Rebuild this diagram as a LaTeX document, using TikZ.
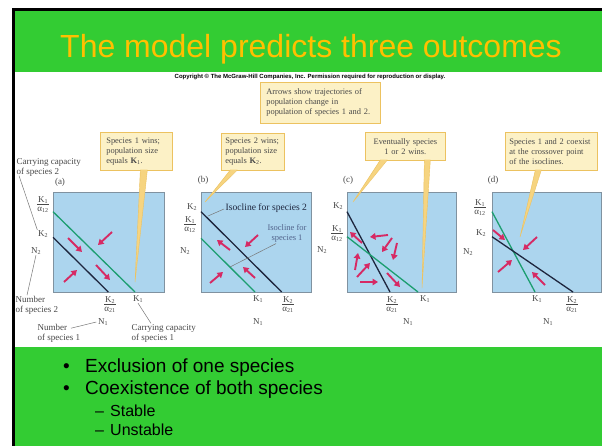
\documentclass[tikz,border=0pt]{standalone}
\usepackage{fontspec}
\setmainfont{Liberation Serif}
\newfontfamily\arialfont{Liberation Sans}
\usetikzlibrary{arrows.meta,calc}

\definecolor{slidegreen}{RGB}{51,204,51}
\definecolor{titleorange}{RGB}{255,192,0}
\definecolor{panelblue}{RGB}{172,213,238}
\definecolor{paneledge}{RGB}{128,146,160}
\definecolor{isogreen}{RGB}{28,158,112}
\definecolor{isonavy}{RGB}{30,38,62}
\definecolor{trajpink}{RGB}{214,42,100}
\definecolor{notefill}{RGB}{252,241,198}
\definecolor{noteedge}{RGB}{236,194,96}
\definecolor{wedgefill}{RGB}{246,212,128}
\definecolor{labelgray}{RGB}{72,72,72}
\definecolor{leadergray}{RGB}{120,120,120}
\definecolor{isolabel}{RGB}{82,100,140}

% fraction label such as K1 over alpha12
\newcommand{\kfrac}[2]{\begin{tabular}{@{}c@{}}#1\\[-1.5pt]\hline\rule{0pt}{8pt}#2\end{tabular}}
% pointer wedge hanging from the bottom edge of a note
\newcommand{\calloutwedge}[4]{%
  \fill[wedgefill] ($(#1.south)+(#2,-1)$) -- (#4) -- ($(#1.south)+(#3,-1)$) -- cycle;
  \draw[noteedge,line width=0.4pt] ($(#1.south)+(#2,-0.7)$) -- (#4) -- ($(#1.south)+(#3,-0.7)$);}

\begin{document}
\begin{tikzpicture}[x=1pt,y=-1pt,
  panel/.style={fill=panelblue, draw=paneledge, line width=0.8pt},
  isoG/.style={isogreen, line width=1.3pt},
  isoK/.style={isonavy, line width=1.3pt},
  traj/.style={trajpink, line width=1.9pt, -{Triangle[length=5.5pt,width=6.5pt]}},
  lab/.style={font=\fontsize{9}{10}\selectfont, text=labelgray, inner sep=0.5pt},
  leader/.style={draw=leadergray, line width=0.5pt},
  note/.style={draw=noteedge, fill=notefill, line width=0.7pt,
    font=\fontsize{8.4}{10}\selectfont, text=labelgray, align=left,
    inner xsep=4pt, inner ysep=2pt, anchor=north west},
  bullet/.style={font=\arialfont\fontsize{19}{22}\selectfont, inner sep=0pt, anchor=base west},
  subbullet/.style={font=\arialfont\fontsize{16}{18}\selectfont, inner sep=0pt, anchor=base west},
]
\useasboundingbox (0,0) rectangle (602,446);

% slide background and frame
\fill[white] (0,0) rectangle (602,446);
\fill[slidegreen] (12,9) rectangle (602,72);
\fill[slidegreen] (12,347) rectangle (602,446);
\fill[black] (11.5,8.5) rectangle (602,11);
\fill[black] (11.5,8.5) rectangle (15,446);

% title and credit line
\node[font=\arialfont\fontsize{32}{36}\selectfont, text=titleorange, anchor=base, inner sep=0pt]
  (title) at (311,58) {The model predicts three outcomes};
\node[font=\arialfont\bfseries\fontsize{6}{7}\selectfont, inner sep=0pt]
  (credit) at (310,77) {Copyright © The McGraw-Hill Companies, Inc. Permission required for reproduction or display.};

% ---------- phase planes ----------
\draw[panel] (53,192) rectangle (164,292);
\draw[panel] (201,192) rectangle (311,292);
\draw[panel] (347,192) rectangle (456,292);
\draw[panel] (492,192) rectangle (601,292);

% isoclines
\draw[isoG] (53,211.7) -- (135,292);
\draw[isoK] (53,237.3) -- (108.3,292);
\draw[isoK] (201,211.7) -- (281.7,292);
\draw[isoG] (201,238.3) -- (255,292);
\draw[isoK] (347,211.7) -- (390,292);
\draw[isoG] (347,236.7) -- (418,292);
\draw[isoG] (492,211.7) -- (535,292);
\draw[isoK] (492,236.7) -- (573,292);

% trajectories (a)
\draw[traj] (68,238) -- (82,252);
\draw[traj] (112,232) -- (98,245);
\draw[traj] (64,282) -- (77,270);
\draw[traj] (96,265) -- (110,280);
% trajectories (b)
\draw[traj] (230,250) -- (217,240);
\draw[traj] (258,235) -- (245,247);
\draw[traj] (210,283) -- (223,272);
\draw[traj] (255,278) -- (243,267);
% trajectories (c)
\draw[traj] (362,243) -- (350,232);
\draw[traj] (388,235) -- (370,237);
\draw[traj] (392,238) -- (382,252);
\draw[traj] (397,243) -- (393,260);
\draw[traj] (355,270) -- (358,253);
\draw[traj] (357,277) -- (370,263);
\draw[traj] (360,282) -- (378,282);
\draw[traj] (387,273) -- (400,287);
% trajectories (d)
\draw[traj] (493,230) -- (505,240);
\draw[traj] (537,237) -- (523,250);
\draw[traj] (498,272) -- (512,260);
\draw[traj] (545,285) -- (532,272);

% ---------- notes ----------
\node[note, minimum width=120, minimum height=41, inner xsep=6pt, text width=108] (ntop) at (260,82)
  {Arrows show trajectories of\\population change in\\population of species 1 and 2.};
\node[note, minimum width=72, minimum height=38, inner xsep=6pt, text width=60] (na) at (100,132)
  {Species 1 wins;\\population size\\equals \textbf{K}\textsubscript{1}.};
\node[note, minimum width=63, minimum height=37, text width=55] (nb) at (221,133)
  {Species 2 wins;\\population size\\equals \textbf{K}\textsubscript{2}.};
\node[note, minimum width=80, minimum height=28, text width=72, align=center] (nc) at (365,132)
  {Eventually species\\1 or 2 wins.};
\node[note, minimum width=92, minimum height=38, text width=84] (nd) at (505,132)
  {Species 1 and 2 coexist\\at the crossover point\\of the isoclines.};

\coordinate (tipa) at (135,282);
\coordinate (tipb) at (205,202);
\coordinate (tipc1) at (353,202);
\coordinate (tipc2) at (422,288);
\coordinate (tipd) at (520,237);
\calloutwedge{na}{4}{11}{tipa}
\calloutwedge{nb}{-22.5}{-15.5}{tipb}
\calloutwedge{nc}{-25}{-18}{tipc1}
\calloutwedge{nc}{19}{25}{tipc2}
\calloutwedge{nd}{-16}{-10}{tipd}

% ---------- labels (a) ----------
\node[lab] (a-tag) at (60,182) {(a)};
\node[lab, align=left, anchor=west] (a-cc2) at (16,167) {Carrying capacity\\of species 2};
\node[lab] (a-k1) at (43,205) {\kfrac{K\textsubscript{1}}{α\textsubscript{12}}};
\node[lab] (a-k2) at (43,234) {K\textsubscript{2}};
\node[lab] (a-n2) at (36,251) {N\textsubscript{2}};
\node[lab, align=left, anchor=west] (a-num2) at (15,305) {Number\\of species 2};
\node[lab] (a-k2a21) at (110,305) {\kfrac{K\textsubscript{2}}{α\textsubscript{21}}};
\node[lab] (a-k1b) at (138,299) {K\textsubscript{1}};
\node[lab] (a-n1) at (103,322) {N\textsubscript{1}};
\node[lab, align=left, anchor=west] (a-num1) at (37,333) {Number\\of species 1};
\node[lab, align=left, anchor=west] (a-cc1) at (131,333) {Carrying capacity\\of species 1};
\draw[leader] ($(a-cc2.south west)+(3,-1)$) -- (a-k2.north west);
\draw[leader] (a-n2.south) -- ($(a-num2.north west)+(12,0)$);
\draw[leader] ($(a-n1.west)+(-1,0)$) -- ($(a-num1.north west)+(34,5)$);
\draw[leader] (a-k1b.south) -- ($(a-cc1.north west)+(20,0)$);

% ---------- labels (b) ----------
\node[lab] (b-tag) at (203,180) {(b)};
\node[lab] (b-k2) at (192,207) {K\textsubscript{2}};
\node[lab] (b-k1) at (190,225) {\kfrac{K\textsubscript{1}}{α\textsubscript{12}}};
\node[lab] (b-n2) at (185,251) {N\textsubscript{2}};
\node[lab] (b-k1b) at (258,299) {K\textsubscript{1}};
\node[lab] (b-k2a21) at (288,305) {\kfrac{K\textsubscript{2}}{α\textsubscript{21}}};
\node[lab] (b-n1) at (258,322) {N\textsubscript{1}};
\node[lab, text=isonavy, anchor=west, font=\fontsize{9.6}{11}\selectfont] (b-iso2) at (225,208) {Isocline for species 2};
\node[lab, text=isolabel, font=\fontsize{8.5}{10}\selectfont, align=center] (b-iso1) at (287,233) {Isocline for\\species 1};
\coordinate (b-onG) at (230,267);
\draw[leader] ($(b-iso2.west)+(-1,1)$) -- (208,216);
\draw[leader] ($(b-iso1.south)+(-11,1)$) -- (b-onG);

% ---------- labels (c) ----------
\node[lab] (c-tag) at (348,180) {(c)};
\node[lab] (c-k2) at (338,206) {K\textsubscript{2}};
\node[lab] (c-k1) at (337,234) {\kfrac{K\textsubscript{1}}{α\textsubscript{12}}};
\node[lab] (c-n2) at (322,250) {N\textsubscript{2}};
\node[lab] (c-k2a21) at (392,305) {\kfrac{K\textsubscript{2}}{α\textsubscript{21}}};
\node[lab] (c-k1b) at (425,299) {K\textsubscript{1}};
\node[lab] (c-n1) at (408,322) {N\textsubscript{1}};

% ---------- labels (d) ----------
\node[lab] (d-tag) at (493,180) {(d)};
\node[lab] (d-k1) at (480,208) {\kfrac{K\textsubscript{1}}{α\textsubscript{12}}};
\node[lab] (d-k2) at (481,233) {K\textsubscript{2}};
\node[lab] (d-n2) at (468,252) {N\textsubscript{2}};
\node[lab] (d-k1b) at (537,299) {K\textsubscript{1}};
\node[lab] (d-k2a21) at (572,305) {\kfrac{K\textsubscript{2}}{α\textsubscript{21}}};
\node[lab] (d-n1) at (548,322) {N\textsubscript{1}};

% ---------- bullet list ----------
\node[bullet] (dot1) at (63,372) {•};
\node[bullet] (item1) at (85,372) {Exclusion of one species};
\node[bullet] (dot2) at (63,394.5) {•};
\node[bullet] (item2) at (85,394.5) {Coexistence of both species};
\node[subbullet] (dash1) at (95,416) {–};
\node[subbullet] (sub1) at (110,416) {Stable};
\node[subbullet] (dash2) at (95,435) {–};
\node[subbullet] (sub2) at (110,435) {Unstable};
\end{tikzpicture}
\end{document}
